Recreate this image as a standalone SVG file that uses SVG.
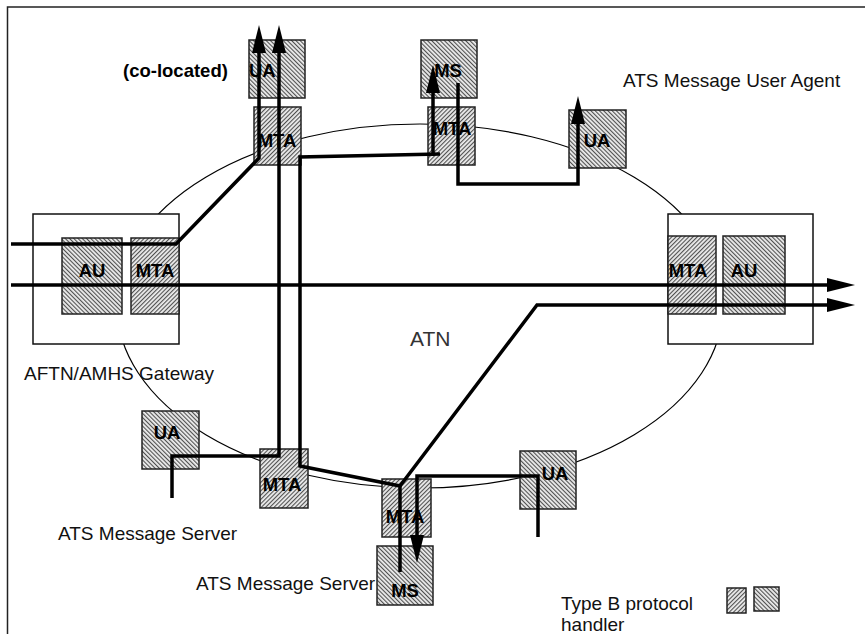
<svg xmlns="http://www.w3.org/2000/svg" width="865" height="634" viewBox="0 0 865 634">
<defs>
<pattern id="hM" width="3" height="3" patternUnits="userSpaceOnUse" patternTransform="rotate(45)">
<rect width="3" height="3" fill="#ececec"/><rect width="1.1" height="3" fill="#505050"/>
</pattern>
<pattern id="hU" width="3" height="3" patternUnits="userSpaceOnUse" patternTransform="rotate(-45)">
<rect width="3" height="3" fill="#ececec"/><rect width="1.1" height="3" fill="#505050"/>
</pattern>
<marker id="ah" markerUnits="userSpaceOnUse" markerWidth="28" markerHeight="14" refX="18" refY="7" orient="auto" overflow="visible">
<path d="M0,0 L28,7 L0,14 z" fill="#000"/>
</marker>
<style>
.frame{fill:none;stroke:#222;stroke-width:1.5}
.ell{fill:none;stroke:#000;stroke-width:1.2}
.gw{fill:#fff;stroke:#111;stroke-width:1.5}
.mta{fill:url(#hM);stroke:#222;stroke-width:1.5}
.ua{fill:url(#hU);stroke:#222;stroke-width:1.5}
.lbl{font-family:"Liberation Sans",Arial,sans-serif;font-weight:bold;font-size:18.5px;fill:#000}
.txt{font-family:"Liberation Sans",Arial,sans-serif;font-size:19px;fill:#111}
.atn{font-family:"Liberation Sans",Arial,sans-serif;font-size:21px;fill:#333}
.flow{fill:none;stroke:#000;stroke-width:3.5;stroke-linejoin:miter}
</style>
</defs>
<rect width="865" height="634" fill="#fff"/>
<path class="frame" d="M7.5,634 L7.5,7 L865,7"/>
<ellipse class="ell" cx="420" cy="306" rx="303" ry="182"/>

<g id="gw-left">
<rect class="gw" x="33" y="214" width="146" height="130"/>
<g id="au-left"><rect class="ua" x="62" y="238" width="60" height="76"/><text class="lbl" x="92" y="277" text-anchor="middle">AU</text></g>
<g id="mta-left"><rect class="mta" x="131" y="238" width="48" height="76"/><text class="lbl" x="155" y="277" text-anchor="middle">MTA</text></g>
</g>
<g id="gw-right">
<rect class="gw" x="668" y="214" width="145" height="130"/>
<g id="mta-right"><rect class="mta" x="668" y="236" width="48" height="78"/><text class="lbl" x="688" y="277" text-anchor="middle">MTA</text></g>
<g id="au-right"><rect class="ua" x="723" y="236" width="62" height="78"/><text class="lbl" x="744" y="277" text-anchor="middle">AU</text></g>
</g>

<g id="ua-coloc"><rect class="ua" x="249" y="40" width="56" height="58"/><text class="lbl" x="249" y="77">UA</text></g>
<g id="mta-top1"><rect class="mta" x="254" y="107" width="47" height="58"/><text class="lbl" x="277" y="147" text-anchor="middle">MTA</text></g>
<g id="ms-top"><rect class="ua" x="421" y="40" width="56" height="58"/><text class="lbl" x="448" y="77" text-anchor="middle">MS</text></g>
<g id="mta-top2"><rect class="mta" x="428" y="107" width="47" height="58"/><text class="lbl" x="452" y="135" text-anchor="middle">MTA</text></g>
<g id="ua-top-right"><rect class="ua" x="569" y="110" width="57" height="58"/><text class="lbl" x="597" y="147" text-anchor="middle">UA</text></g>

<g id="ua-bottom-left"><rect class="ua" x="142" y="411" width="57" height="58"/><text class="lbl" x="167" y="439" text-anchor="middle">UA</text></g>
<g id="mta-bottom-left"><rect class="mta" x="260" y="449" width="48" height="59"/><text class="lbl" x="282" y="491" text-anchor="middle">MTA</text></g>
<g id="mta-bottom"><rect class="mta" x="382" y="479" width="49" height="58"/><text class="lbl" x="405" y="523" text-anchor="middle">MTA</text></g>
<g id="ua-bottom-right"><rect class="ua" x="520" y="451" width="56" height="58"/><text class="lbl" x="555" y="480" text-anchor="middle">UA</text></g>

<text class="txt" x="196" y="590">ATS Message Server</text>
<g id="ms-bottom"><rect class="ua" x="377" y="546" width="56" height="59"/><text class="lbl" x="405" y="597" text-anchor="middle">MS</text></g>

<g id="legend">
<rect class="mta" x="727" y="588" width="19" height="25"/>
<rect class="ua" x="754" y="587" width="25" height="24"/>
<text class="txt" x="561" y="610">Type B protocol</text>
<text class="txt" x="561" y="631">handler</text>
</g>

<g id="labels">
<text class="lbl" x="123" y="77">(co-located)</text>
<text class="txt" x="623" y="87">ATS Message User Agent</text>
<text class="txt" x="24" y="380">AFTN/AMHS Gateway</text>
<text class="txt" x="58" y="540">ATS Message Server</text>
<text class="atn" x="410" y="346">ATN</text>
</g>

<g id="connectors">
<path class="flow" d="M11,244 L176,244 L259,158 L259,35" marker-end="url(#ah)"/>
<path class="flow" d="M172,498 L172,456 L279,456 L279,35" marker-end="url(#ah)"/>
<path class="flow" d="M400,572 L400,486 L300,466 L300,157 L440,154"/>
<path class="flow" d="M433,156 L433,75" marker-end="url(#ah)"/>
<path class="flow" d="M458,83 L458,184 L578,184 L578,106" marker-end="url(#ah)"/>
<path class="flow" d="M11,285 L845,285" marker-end="url(#ah)"/>
<path class="flow" d="M400,486 L537,305 L845,305" marker-end="url(#ah)"/>
<path class="flow" d="M538,537 L538,476 L417,476 L417,553" marker-end="url(#ah)"/>
</g>
</svg>
